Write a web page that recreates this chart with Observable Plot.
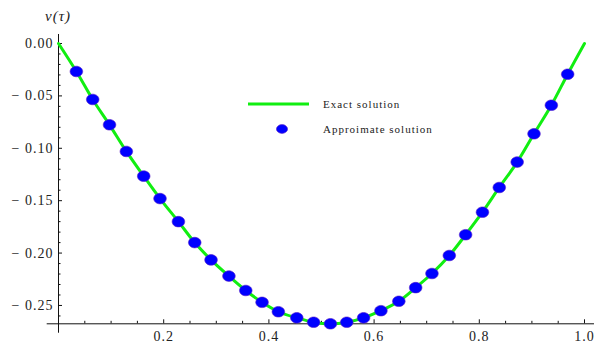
<!DOCTYPE html>
<html>
<head>
<meta charset="utf-8">
<script src="https://cdn.jsdelivr.net/npm/d3@7"></script>
<script src="https://cdn.jsdelivr.net/npm/@observablehq/plot@0.6"></script>
<style>
  html, body { margin: 0; padding: 0; background: #fff; }
  svg text { letter-spacing: 1px; }
</style>
</head>
<body>
<div id="chart"></div>
<script>
// Approximate solution points
const tau = [0.034, 0.065, 0.097, 0.129, 0.162, 0.193, 0.228, 0.259, 0.290, 0.324,
             0.356, 0.387, 0.418, 0.453, 0.485, 0.517, 0.548, 0.580, 0.613, 0.647,
             0.679, 0.710, 0.743, 0.774, 0.806, 0.838, 0.872, 0.904, 0.937, 0.968];
const approxV = [-0.0267, -0.0534, -0.0776, -0.103, -0.1266, -0.148, -0.170, -0.190, -0.2065, -0.222,
                 -0.2357, -0.247, -0.256, -0.2618, -0.266, -0.2675, -0.266, -0.2618, -0.255, -0.246,
                 -0.233, -0.2195, -0.2023, -0.1825, -0.161, -0.1374, -0.1132, -0.0862, -0.0589, -0.0293];

// Exact solution curve
const exactTau = [0, 0.034, 0.065, 0.097, 0.129, 0.162, 0.193, 0.228, 0.259, 0.290, 0.324,
                  0.356, 0.387, 0.418, 0.453, 0.485, 0.517, 0.548, 0.580, 0.613, 0.647,
                  0.679, 0.710, 0.743, 0.774, 0.806, 0.838, 0.872, 0.904, 0.937, 0.968, 1];
const exactV = [0, -0.0267, -0.0534, -0.0776, -0.103, -0.1266, -0.148, -0.170, -0.190, -0.2065, -0.222,
                -0.2357, -0.247, -0.256, -0.2618, -0.266, -0.2675, -0.266, -0.2618, -0.255, -0.246,
                -0.233, -0.2195, -0.2023, -0.1825, -0.161, -0.1374, -0.1132, -0.0862, -0.0589, -0.0293, 0];

// Ticks
const xMajor = [0.2, 0.4, 0.6, 0.8, 1.0];
const xMinor = [0.05, 0.1, 0.15, 0.25, 0.3, 0.35, 0.45, 0.5, 0.55, 0.65, 0.7, 0.75, 0.85, 0.9, 0.95];
const yMajor = [-0.25, -0.20, -0.15, -0.10, -0.05, 0.00];
const yMinor = [-0.26, -0.24, -0.23, -0.22, -0.21, -0.19, -0.18, -0.17, -0.16, -0.14, -0.13, -0.12, -0.11,
                -0.09, -0.08, -0.07, -0.06, -0.04, -0.03, -0.02, -0.01];

// Plot range (axes extents)
const xAxisExtent = [-0.0215, 1.019];
const yAxisExtent = [-0.2765, 0.0086];
const xAxisAt = -0.2675;

const legendLabels = ["Exact solution", "Approimate solution"];
const yLabel = "v(τ)";

const points = tau.map((t, i) => ({t, v: approxV[i]}));
const exact = exactTau.map((t, i) => ({t, v: exactV[i]}));

const fmtY = d => (d < 0 ? "\u2212 " : "") + Math.abs(d).toFixed(2);
const fmtX = d => d.toFixed(1);

const ellipse = {
  draw(ctx, size) {
    const r = Math.sqrt(size / Math.PI);
    const rx = r * 1.19, ry = r, k = 0.5523;
    ctx.moveTo(rx, 0);
    ctx.bezierCurveTo(rx, ry * k, rx * k, ry, 0, ry);
    ctx.bezierCurveTo(-rx * k, ry, -rx, ry * k, -rx, 0);
    ctx.bezierCurveTo(-rx, -ry * k, -rx * k, -ry, 0, -ry);
    ctx.bezierCurveTo(rx * k, -ry, rx, -ry * k, rx, 0);
    ctx.closePath();
  }
};

const textColor = "#222";
const font = "'Liberation Serif', 'Times New Roman', serif";

const chart = Plot.plot({
  width: 610,
  height: 347,
  marginLeft: 58,
  marginRight: 26,
  marginTop: 43,
  marginBottom: 23.7,
  style: {fontFamily: font, background: "#fff"},
  x: {domain: [0, 1], label: null},
  y: {domain: [xAxisAt, 0], label: null},
  marks: [
    // axis lines
    Plot.ruleY([xAxisAt], {x1: xAxisExtent[0], x2: xAxisExtent[1], stroke: "#111", strokeWidth: 1}),
    Plot.ruleX([0], {y1: yAxisExtent[0], y2: yAxisExtent[1], stroke: "#111", strokeWidth: 1}),
    // ticks (inward)
    Plot.axisX(xMajor, {anchor: "bottom", tickSize: -4, tickFormat: () => "", label: null, stroke: "#111"}),
    Plot.axisX(xMinor, {anchor: "bottom", tickSize: -2.5, tickFormat: () => "", label: null, stroke: "#111"}),
    Plot.axisY(yMajor, {anchor: "left", tickSize: -4, tickFormat: () => "", label: null, stroke: "#111"}),
    Plot.axisY(yMinor, {anchor: "left", tickSize: -2.5, tickFormat: () => "", label: null, stroke: "#111"}),
    // tick labels
    Plot.axisX(xMajor, {anchor: "bottom", tickSize: 0, tickPadding: 7, tickFormat: fmtX, label: null, fontSize: 14, fill: textColor}),
    Plot.axisY(yMajor, {anchor: "left", tickSize: 0, tickPadding: 5, tickFormat: fmtY, label: null, fontSize: 14, fill: textColor}),
    // data
    Plot.line(exact, {x: "t", y: "v", stroke: "#11ee11", strokeWidth: 3, curve: "catmull-rom"}),
    Plot.dot(points, {x: "t", y: "v", r: 5.3, symbol: ellipse, fill: "#0000ff", stroke: "#5a22c8", strokeWidth: 0.6})
  ]
});

const svg = d3.select(chart);
// y label
svg.append("text")
  .attr("x", 58).attr("y", 21)
  .attr("text-anchor", "middle")
  .attr("font-family", font)
  .attr("font-style", "italic")
  .attr("font-size", 15)
  .attr("fill", textColor)
  .text(yLabel);

// legend
const lg = svg.append("g").attr("font-family", font).attr("font-size", 11)
  .attr("fill", textColor).attr("text-anchor", "start");
lg.append("line").attr("x1", 248).attr("x2", 309).attr("y1", 104).attr("y2", 104)
  .attr("stroke", "#11ee11").attr("stroke-width", 3);
lg.append("text").attr("x", 323).attr("y", 108).attr("text-anchor", "start").text(legendLabels[0]);
lg.append("ellipse").attr("cx", 282).attr("cy", 129).attr("rx", 5.6).attr("ry", 4.4)
  .attr("fill", "#0000ff").attr("stroke", "#5a22c8").attr("stroke-width", 0.6);
lg.append("text").attr("x", 323).attr("y", 133).attr("text-anchor", "start").text(legendLabels[1]);

document.getElementById("chart").appendChild(chart);
</script>
</body>
</html>
